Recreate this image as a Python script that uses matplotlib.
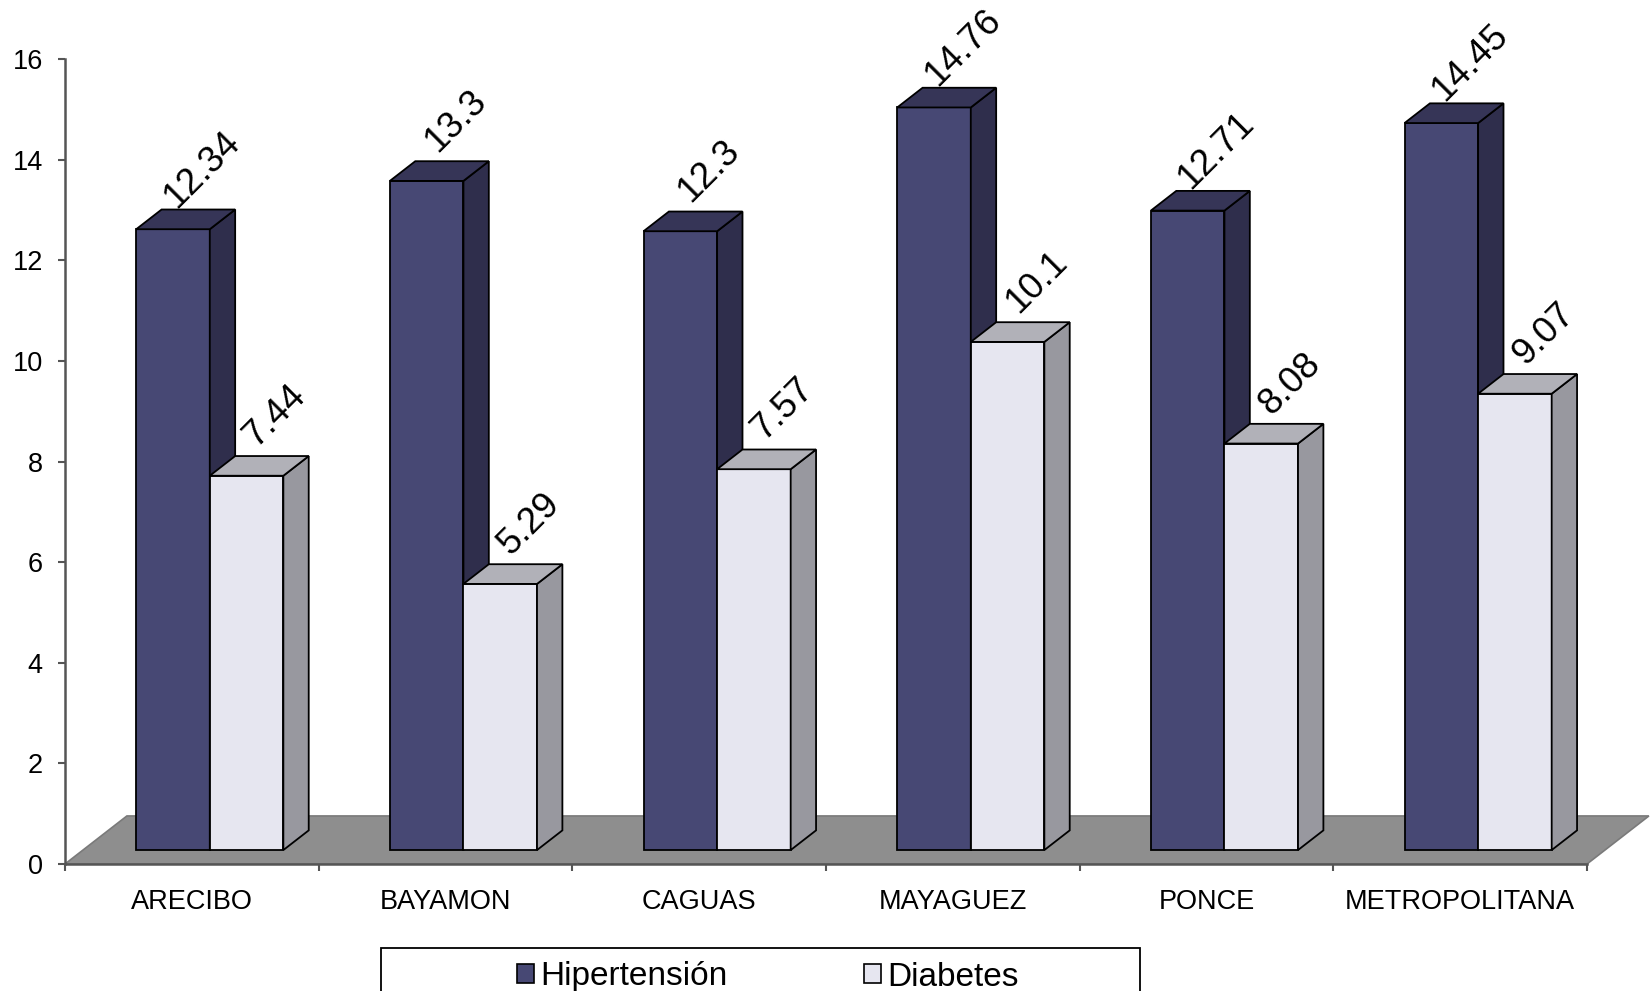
import numpy as np
import matplotlib.pyplot as plt
from matplotlib.patches import Polygon, Rectangle, Patch

plt.rcParams['font.family'] = ['Liberation Sans', 'DejaVu Sans']

regiones = ["ARECIBO", "BAYAMON", "CAGUAS", "MAYAGUEZ", "PONCE", "METROPOLITANA"]
hipertension = [12.34, 13.3, 12.3, 14.76, 12.71, 14.45]
diabetes = [7.44, 5.29, 7.57, 10.1, 8.08, 9.07]
series = ["Hipertensión", "Diabetes"]
y_ticks = [0, 2, 4, 6, 8, 10, 12, 14, 16]

# oblique depth of the floor, in data units, and where the boxes sit on it
DX, DY = 0.244, 0.955
d_front, d_back = 0.29, 0.70
bar_w = 0.29

# front / side / top shades for each series
col_hip = ("#474874", "#2f2e4c", "#363557")
col_dia = ("#e6e6f0", "#98989f", "#b1b1b8")


def proj(x, y, d):
    return (x + d * DX, y + d * DY)


def box(ax, x0, h, cols):
    x1 = x0 + bar_w
    front = [proj(x0, 0, d_front), proj(x1, 0, d_front), proj(x1, h, d_front), proj(x0, h, d_front)]
    side = [proj(x1, 0, d_front), proj(x1, 0, d_back), proj(x1, h, d_back), proj(x1, h, d_front)]
    top = [proj(x0, h, d_front), proj(x1, h, d_front), proj(x1, h, d_back), proj(x0, h, d_back)]
    for pts, c in zip((front, side, top), cols):
        ax.add_patch(Polygon(pts, closed=True, facecolor=c, edgecolor="black",
                             linewidth=1.3, joinstyle="miter", clip_on=False, zorder=3))


W, H = 1651, 991
fig = plt.figure(figsize=(W / 100, H / 100), dpi=100)
ax = fig.add_axes([65 / W, 1 - 864 / H, 1522 / W, 805 / H])
n = len(regiones)
ax.set_xlim(0, n)
ax.set_ylim(0, 16)

# grey floor
floor = [proj(0, 0, 0), proj(n, 0, 0), proj(n, 0, 1), proj(0, 0, 1)]
ax.add_patch(Polygon(floor, closed=True, facecolor="#8e8e8e", edgecolor="#7a7a7a",
                     linewidth=1.2, clip_on=False, zorder=1))

for i in range(n):
    x_hip = i + 0.5 - bar_w
    x_dia = i + 0.5
    for x0, v, cols in ((x_hip, hipertension[i], col_hip), (x_dia, diabetes[i], col_dia)):
        box(ax, x0, v, cols)
        cx, cy = proj(x0 + bar_w / 2, v, (d_front + d_back) / 2)
        ax.annotate(f"{v:g}", xy=(cx, cy), xytext=(16, 50), textcoords="offset pixels",
                    rotation=45, ha="center", va="center", fontsize=26.5,
                    annotation_clip=False, zorder=5)

for s in ("top", "right"):
    ax.spines[s].set_visible(False)
for s in ("left", "bottom"):
    ax.spines[s].set_color("#555555")
    ax.spines[s].set_linewidth(1.8)
    ax.spines[s].set_zorder(2)

ax.set_yticks(y_ticks)
ax.tick_params(axis="y", direction="out", length=5, width=1.5, color="#555555",
               labelsize=19.5, pad=11)
ax.set_xticks(np.arange(n + 1))
ax.set_xticklabels([])
ax.set_xticks(np.arange(n) + 0.5, minor=True)
ax.set_xticklabels(regiones, minor=True)
ax.tick_params(axis="x", which="major", direction="out", length=5, width=1.5, color="#555555")
ax.tick_params(axis="x", which="minor", length=0, labelsize=19.5, pad=18)

# legend box runs off the bottom edge
fig.patches.append(Rectangle((381 / W, -0.05), 759 / W, 0.05 + 1 - 948 / H,
                             transform=fig.transFigure, fill=False,
                             edgecolor="black", linewidth=1.3))
handles = [Patch(facecolor=col_hip[0], edgecolor="black", linewidth=1.2),
           Patch(facecolor=col_dia[0], edgecolor="black", linewidth=1.2)]
fig.legend(handles, series, loc="center", bbox_to_anchor=(768 / W, 1 - 977 / H),
           ncol=2, frameon=False, fontsize=24, handlelength=0.5, handleheight=0.5,
           handletextpad=0.2, columnspacing=4.1, borderpad=0)

fig.savefig("out.png", dpi=100)
